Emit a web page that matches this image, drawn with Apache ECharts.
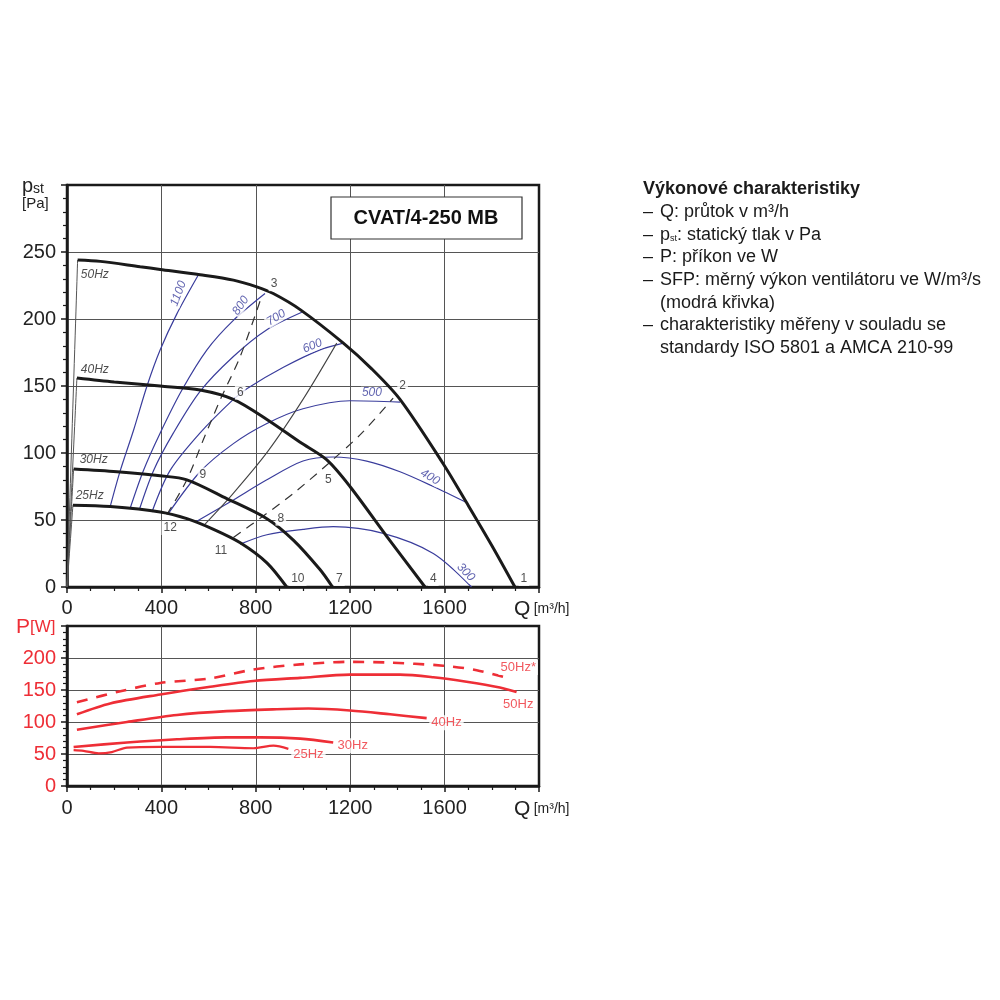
<!DOCTYPE html>
<html>
<head>
<meta charset="utf-8">
<script src="https://cdn.jsdelivr.net/npm/echarts@6/dist/echarts.min.js"></script>
<style>
  html, body { margin: 0; padding: 0; background: #fff; }
  #main { width: 1000px; height: 1000px; }
</style>
</head>
<body>
<div id="main"></div>
<script>
// osy
var qMax = 2000, qStep = 400
var pstMax = 300, pstStep = 50
var pwMax = 250, pwStep = 50

// charakteristiky ventilatoru [Q, pst]
var hz50 = [[45,244],[141,243],[310,239],[395,237],[564,233],[705,229],[804,224],[874,219],[988,207],[1171,182],[1290,163],[1411,140],[1594,92],[1693,63],[1800,31],[1898,0]]
var hz40 = [[42,156],[200,153],[395,150],[564,147],[705,140],[847,125],[988,108],[1100,95],[1199,75],[1354,38],[1517,0]]
var hz30 = [[28,88],[212,86],[395,83],[508,80],[677,66],[847,51],[959,35],[1072,13],[1125,0]]
var hz25 = [[25,61],[183,60],[395,56],[508,51],[621,43],[734,33],[847,18],[931,0]]

// SFP krivky (modre)
var sfp1100 = [[183,60],[226,87],[282,117],[339,150],[395,177],[466,204],[557,233]]
var sfp800 = [[268,59],[324,87],[395,115],[487,147],[593,177],[705,199],[839,219]]
var sfp700 = [[307,58],[367,87],[451,115],[564,146],[705,172],[847,192],[995,205]]
var sfp600 = [[360,56],[437,87],[564,115],[705,140],[762,148],[917,164],[1072,177],[1171,182]]
var sfp500 = [[430,55],[564,86],[705,107],[847,122],[1000,133],[1199,139],[1411,138]]
var sfp400 = [[550,49],[705,65],[847,80],[1000,94],[1128,97],[1270,94],[1411,86],[1552,75],[1693,63]]
var sfp300 = [[734,32],[847,39],[1000,43],[1128,45],[1340,40],[1552,25],[1714,0]]

// odporove krivky
var sysA = [[423,54],[508,80],[578,110],[650,140],[734,172],[825,217]]
var sysB = [[705,37],[832,53],[960,70],[1107,92],[1250,115],[1382,141]]
var sysC = [[585,47],[700,69],[850,101],[1000,140],[1143,182]]

// popisky
var pointLabels = [[1936,6,'1'],[1422,150,'2'],[877,226,'3'],[1552,6,'4'],[1107,80,'5'],[734,145,'6'],[1154,6,'7'],[906,51,'8'],[576,84,'9'],[978,6,'10'],[652,27,'11'],[437,44,'12']]
var hzLabels = [[118,233,'50Hz'],[118,162,'40Hz'],[113,95,'30Hz'],[96,68,'25Hz']]
var sfpLabels = [[472,219,'1100'],[736,210,'800'],[886,201,'700'],[1040,180,'600'],[1292,145,'500'],[1538,82,'400'],[1690,11,'300']]
var sfpRotate = { '1100': 70, '800': 55, '700': 32, '600': 22, '500': 0, '400': -30, '300': -45 }

// prikon [Q, P]
var pw50star = [[42,131],[226,148],[395,161],[607,168],[790,182],[988,190],[1199,194],[1354,193],[1594,188],[1736,181],[1863,169]]
var pw50 = [[42,112],[183,129],[395,143],[607,155],[790,164],[988,169],[1199,174],[1411,174],[1552,170],[1693,163],[1834,154],[1905,147]]
var pw40 = [[42,88],[254,100],[466,111],[677,117],[889,120],[1023,121],[1199,118],[1369,112],[1524,106]]
var pw30 = [[28,61],[254,68],[466,73],[677,76],[818,76],[988,74],[1128,68]]
var pw25 = [[28,56],[70,55],[134,51],[190,53],[254,60],[395,61],[607,61],[790,59],[875,63],[938,58]]
var pwLabels = [[1912,185,'50Hz*'],[1912,128,'50Hz'],[1608,99,'40Hz'],[1211,63,'30Hz'],[1023,50,'25Hz']]

var infoTitle = 'Výkonové charakteristiky'
var infoLines = [
  ['–', 'Q: průtok v m³/h'],
  ['–', 'p{s|st}: statický tlak v Pa'],
  ['–', 'P: příkon ve W'],
  ['–', 'SFP: měrný výkon ventilátoru ve W/m³/s'],
  ['', '(modrá křivka)'],
  ['–', 'charakteristiky měřeny v souladu se'],
  ['', 'standardy ISO 5801 a AMCA 210-99']
]

var FONT = '"Liberation Sans", Arial, sans-serif'
var BLUE = '#3a3d9c'
var RED = '#ee2e36'
var INK = '#1a1a1a'

function xAx(idx) {
  return {
    gridIndex: idx, type: 'value', min: 0, max: qMax, interval: qStep,
    axisLine: { show: true, onZero: false, lineStyle: { color: INK, width: 2.5 } },
    axisTick: { show: true, length: 6, lineStyle: { color: INK, width: 1.5 } },
    minorTick: { show: true, splitNumber: 4, length: 4, lineStyle: { color: INK, width: 1.2 } },
    splitLine: { show: true, showMinLine: false, showMaxLine: false, lineStyle: { color: '#555', width: 1 } },
    axisLabel: {
      margin: idx === 0 ? 11 : 12, fontSize: 20, color: '#222', fontFamily: FONT,
      formatter: function (v) { return v === qMax ? '' : v }
    }
  }
}

function yAx(idx, max, step, color) {
  return {
    gridIndex: idx, type: 'value', min: 0, max: max, interval: step,
    axisLine: { show: true, onZero: false, lineStyle: { color: INK, width: 2.5 } },
    axisTick: { show: true, length: 6, lineStyle: { color: INK, width: 1.5 } },
    minorTick: { show: true, splitNumber: 5, length: 4, lineStyle: { color: INK, width: 1.2 } },
    splitLine: { show: true, showMinLine: false, showMaxLine: false, lineStyle: { color: '#555', width: 1 } },
    axisLabel: {
      margin: 11, fontSize: 20, color: color, fontFamily: FONT,
      formatter: function (v) { return v === max ? '' : v }
    }
  }
}

function line(data, color, width, type, grid) {
  return {
    type: 'line', data: data, xAxisIndex: grid || 0, yAxisIndex: grid || 0,
    smooth: 0.3, symbol: 'none', silent: true,
    lineStyle: { color: color, width: width, type: type || 'solid' }
  }
}

function labels(list, grid, style, rotMap) {
  return {
    type: 'scatter', xAxisIndex: grid, yAxisIndex: grid, symbolSize: 1, silent: true, z: 6,
    itemStyle: { color: 'rgba(0,0,0,0)' },
    data: list.map(function (d) {
      var item = { value: [d[0], d[1]], name: d[2] }
      if (rotMap) item.label = { rotate: rotMap[d[2]] }
      return item
    }),
    label: Object.assign({ show: true, position: 'inside', formatter: '{b}', fontFamily: FONT }, style)
  }
}

var series = []
// nabeh z pocatku
;[hz50, hz40, hz30, hz25].forEach(function (c) {
  series.push(line([[0, 0], c[0]], '#555', 1))
})
;[sfp1100, sfp800, sfp700, sfp600, sfp500, sfp400, sfp300].forEach(function (c) {
  series.push(line(c, BLUE, 1.2))
})
series.push(line(sysA, '#333', 1.2, [9, 7]))
series.push(line(sysB, '#333', 1.2, [9, 7]))
series.push(line(sysC, '#444', 1.1))
;[hz50, hz40, hz30, hz25].forEach(function (c) {
  series.push(line(c, INK, 3))
})
series.push(labels(pointLabels, 0, { color: '#222', fontSize: 12, backgroundColor: '#fff', padding: [1, 2] }))
series.push(labels(hzLabels, 0, { color: '#222', fontSize: 12, fontStyle: 'italic' }))
series.push(labels(sfpLabels, 0, { color: BLUE, fontSize: 12, fontStyle: 'italic', backgroundColor: '#fff', padding: [0, 1] }, sfpRotate))

series.push(line(pw50star, RED, 2.6, [11, 9], 1))
series.push(line(pw50, RED, 2.6, 'solid', 1))
series.push(line(pw40, RED, 2.6, 'solid', 1))
series.push(line(pw30, RED, 2.6, 'solid', 1))
series.push(line(pw25, RED, 2.2, 'solid', 1))
series.push(labels(pwLabels, 1, { color: RED, fontSize: 13, backgroundColor: '#fff', padding: [1, 2] }))

var graphic = [
  { type: 'rect', shape: { x: 331, y: 197, width: 191, height: 42 }, style: { fill: '#fff', stroke: '#333', lineWidth: 1.2 }, z: 10 },
  { type: 'text', x: 426, y: 218, z: 11, style: { text: 'CVAT/4-250 MB', font: 'bold 20px ' + FONT, fill: '#111', align: 'center', verticalAlign: 'middle' } },
  { type: 'text', x: 22, y: 186, style: { text: '{p|p}{s|st}', align: 'left', verticalAlign: 'middle',
      rich: { p: { fontSize: 20, fontFamily: FONT, fill: '#222' }, s: { fontSize: 14, fontFamily: FONT, fill: '#222', padding: [6, 0, 0, 0] } } } },
  { type: 'text', x: 22, y: 204, style: { text: '[Pa]', font: '15px ' + FONT, fill: '#222', align: 'left', verticalAlign: 'middle' } },
  { type: 'text', x: 16, y: 627, style: { text: '{p|P}{w|[W]}', align: 'left', verticalAlign: 'middle',
      rich: { p: { fontSize: 21, fontFamily: FONT, fill: RED }, w: { fontSize: 17, fontFamily: FONT, fill: RED } } } },
  { type: 'text', x: 514, y: 609, style: { text: '{q|Q} {u|[m³/h]}', align: 'left', verticalAlign: 'middle',
      rich: { q: { fontSize: 21, fontFamily: FONT, fill: '#222' }, u: { fontSize: 14, fontFamily: FONT, fill: '#222' } } } },
  { type: 'text', x: 514, y: 809, style: { text: '{q|Q} {u|[m³/h]}', align: 'left', verticalAlign: 'middle',
      rich: { q: { fontSize: 21, fontFamily: FONT, fill: '#222' }, u: { fontSize: 14, fontFamily: FONT, fill: '#222' } } } },
  { type: 'text', x: 643, y: 189, style: { text: infoTitle, font: 'bold 18px ' + FONT, fill: '#1a1a1a', verticalAlign: 'middle' } }
]
infoLines.forEach(function (ln, i) {
  var y = 212 + i * 22.7
  if (ln[0]) graphic.push({ type: 'text', x: 643, y: y, style: { text: ln[0], font: '18px ' + FONT, fill: '#1a1a1a', verticalAlign: 'middle' } })
  graphic.push({ type: 'text', x: 660, y: y, style: { text: ln[1], verticalAlign: 'middle',
    rich: { s: { fontSize: 9, fontFamily: FONT, fill: '#1a1a1a', padding: [8, 0, 0, 0] } },
    font: '18px ' + FONT, fill: '#1a1a1a' } })
})

var myChart = echarts.init(document.getElementById('main'), null, { renderer: 'canvas' })
myChart.setOption({
  animation: false,
  backgroundColor: '#fff',
  textStyle: { fontFamily: FONT },
  grid: [
    { left: 67, top: 185, width: 472, height: 402, show: true, borderColor: INK, borderWidth: 2.5, backgroundColor: 'transparent' },
    { left: 67, top: 626, width: 472, height: 160, show: true, borderColor: INK, borderWidth: 2.5, backgroundColor: 'transparent' }
  ],
  xAxis: [xAx(0), xAx(1)],
  yAxis: [yAx(0, pstMax, pstStep, '#222'), yAx(1, pwMax, pwStep, RED)],
  series: series,
  graphic: graphic
})
</script>
</body>
</html>
